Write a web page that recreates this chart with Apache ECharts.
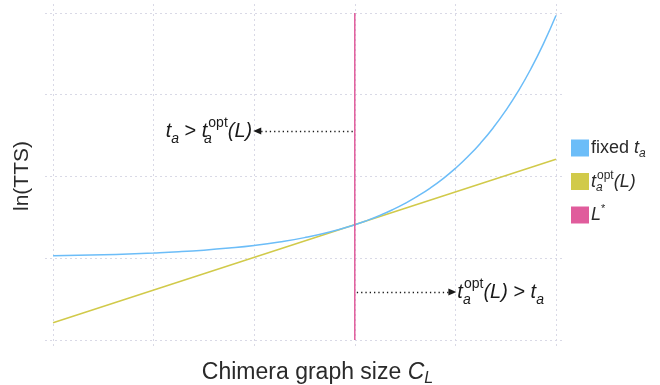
<!DOCTYPE html>
<html>
<head>
<meta charset="utf-8">
<script src="https://cdn.jsdelivr.net/npm/echarts@6/dist/echarts.min.js"></script>
<style>
  html, body { margin: 0; padding: 0; background: #fff; }
  #chart { width: 660px; height: 385px; }
</style>
</head>
<body>
<div id="chart"></div>
<script>
// Chimera graph size (arbitrary units) and ln(TTS) curves
const graphSize = [0, 0.25, 0.5, 0.75, 1, 1.25, 1.5, 1.75, 2, 2.25, 2.5, 2.75, 3,
                   3.125, 3.25, 3.375, 3.5, 3.625, 3.75, 3.875, 4,
                   4.125, 4.25, 4.375, 4.5, 4.625, 4.75, 4.875, 5];
const lnTtsFixed = [1.030, 1.036, 1.043, 1.052, 1.064, 1.079, 1.099, 1.125, 1.157, 1.199,
                    1.252, 1.321, 1.410,
                    1.463, 1.524, 1.593, 1.671, 1.759, 1.858, 1.971, 2.099,
                    2.244, 2.408, 2.594, 2.805, 3.044, 3.315, 3.622, 3.969];
const optSize = [0, 5];
const lnTtsOpt = [0.21, 2.21];
const lStar = 3;
const lStarSpan = [0, 4];
const xTicks = [0, 1, 2, 3, 4, 5];
const yTicks = [0, 1, 2, 3, 4];

const FONT = '"Liberation Sans", Helvetica, Arial, sans-serif';
const INK = '#1a1a1a';

// rich-text styles for t_a, t_a^opt(L), L^*
function richSet(fs, H, subLH, supLH, color) {
  const c = color || INK;
  const base = { fontFamily: FONT, fontSize: fs, color: c, lineHeight: H };
  const small = Math.round(fs * 0.68);
  return {
    n: Object.assign({}, base),
    i: Object.assign({}, base, { fontStyle: 'italic' }),
    sb: { fontFamily: FONT, fontSize: small, color: c, fontStyle: 'italic',
          lineHeight: subLH, verticalAlign: 'bottom' },
    sb0: { fontFamily: FONT, fontSize: small, color: c, fontStyle: 'italic',
           lineHeight: subLH, verticalAlign: 'bottom', width: 1, align: 'left' },
    sp: { fontFamily: FONT, fontSize: small, color: c,
          lineHeight: supLH, verticalAlign: 'top' },
    st: { fontFamily: FONT, fontSize: Math.round(fs * 0.6), color: c,
          lineHeight: supLH, verticalAlign: 'top' }
  };
}

const legendText = {
  'fixed t_a': '{n|fixed }{i|t}{sb|a}',
  't_a^opt(L)': '{i|t}{sb0|a}{sp|opt}{i|(L)}',
  'L*': '{i|L}{st|*}'
};

const gridLine = { show: true, lineStyle: { color: '#d9d9e6', width: 1, type: [2, 3] } };
const arrowStyle = { color: INK, width: 1.3, type: [1.3, 3] };

const chart = echarts.init(document.getElementById('chart'), null, { renderer: 'canvas' });
chart.setOption({
  animation: false,
  backgroundColor: '#ffffff',
  grid: { left: 45, right: 98, top: 4, bottom: 37, containLabel: false, outerBoundsMode: 'none' },
  xAxis: {
    type: 'value', min: -0.08, max: 5.06,
    axisLine: { show: false },
    axisTick: { show: false, customValues: xTicks },
    axisLabel: { show: false, customValues: xTicks },
    splitLine: gridLine,
    name: '{n|Chimera graph size }{i|C}{sb|L}',
    nameLocation: 'middle',
    nameGap: 11,
    nameTextStyle: { rich: richSet(23, 28, 14, 12, '#2a2a2a'), padding: [0, 0, 0, 28] }
  },
  yAxis: {
    type: 'value', min: -0.098, max: 4.11,
    axisLine: { show: false },
    axisTick: { show: false, customValues: yTicks },
    axisLabel: { show: false, customValues: yTicks },
    splitLine: gridLine,
    name: 'ln(TTS)',
    nameLocation: 'middle',
    nameRotate: 90,
    nameGap: 12,
    nameTextStyle: { fontFamily: FONT, fontSize: 21, color: '#2a2a2a' }
  },
  legend: {
    orient: 'vertical',
    left: 566, top: 131,
    itemWidth: 18, itemHeight: 17, itemGap: 9.5,
    icon: 'rect',
    selectedMode: false,
    formatter: name => legendText[name],
    textStyle: { lineHeight: 24, padding: [0, 0, 0, -3], rich: richSet(18, 24, 10, 8, '#2a2a2a') },
    data: ['fixed t_a', 't_a^opt(L)', 'L*']
  },
  series: [
    {
      name: 'fixed t_a', type: 'line', smooth: true, showSymbol: false, symbol: 'none',
      color: '#6cbdf8', lineStyle: { width: 1.5, color: '#6cbdf8' },
      data: graphSize.map((x, k) => [x, lnTtsFixed[k]]), z: 3
    },
    {
      name: 't_a^opt(L)', type: 'line', showSymbol: false, symbol: 'none',
      color: '#d1ca4a', lineStyle: { width: 1.5, color: '#d1ca4a' },
      data: optSize.map((x, k) => [x, lnTtsOpt[k]]), z: 2
    },
    {
      name: 'L*', type: 'line', showSymbol: false, symbol: 'none',
      color: '#e05c9c', lineStyle: { width: 1.5, color: '#e05c9c' },
      data: lStarSpan.map(y => [lStar, y]), z: 4,
      markLine: {
        silent: true, animation: false,
        symbol: ['none', 'triangle'], symbolSize: [7, 8],
        lineStyle: arrowStyle,
        label: {
          show: true, position: 'end', distance: 5,
          rich: richSet(20, 30, 15, 13)
        },
        data: [
          [
            { coord: [2.98, 2.556], label: { formatter: '{i|t}{sb|a}{n| > }{i|t}{sb0|a}{sp|opt}{i|(L)}' } },
            { coord: [2.03, 2.556] }
          ],
          [
            { coord: [3.02, 0.587], label: { formatter: '{i|t}{sb0|a}{sp|opt}{i|(L)}{n| > }{i|t}{sb|a}' } },
            { coord: [3.97, 0.587] }
          ]
        ]
      }
    }
  ]
});
</script>
</body>
</html>
